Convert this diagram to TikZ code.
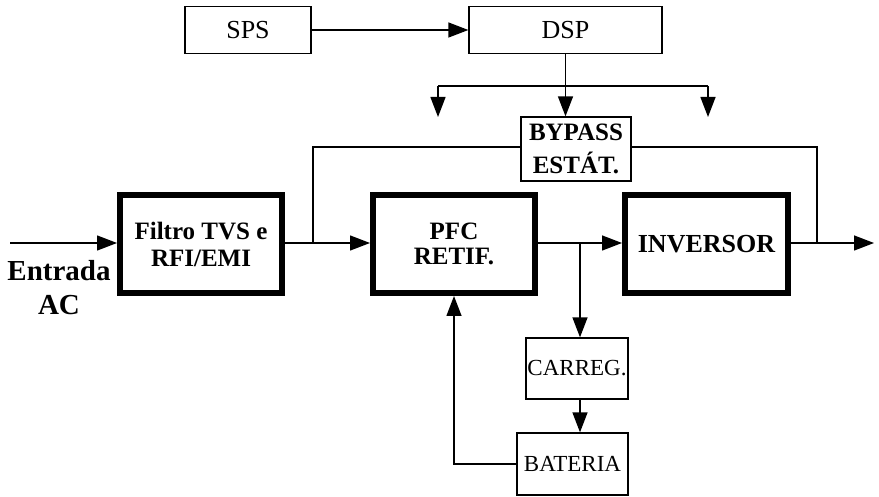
\documentclass[tikz,border=0pt]{standalone}
\usepackage{fontspec}
\setmainfont{Liberation Serif}
\usetikzlibrary{arrows.meta}
\begin{document}
\begin{tikzpicture}[x=1pt,y=-1pt,
  line width=1.4pt,
  arr/.style={-{Triangle[length=20pt,width=15pt]}},
  thin box/.style={draw, line width=1.3pt, inner sep=0pt, font=\fontsize{23}{24}\selectfont, align=center},
  thick box/.style={draw, line width=6pt, inner sep=0pt, font=\bfseries\fontsize{24}{24}\selectfont, align=center},
]
\useasboundingbox (0,0) rectangle (879,497);
\fill[white] (0,0) rectangle (879,497);

\node[thin box, minimum width=126pt, minimum height=47pt, font=\fontsize{26}{26}\selectfont] (sps) at (248,30) {SPS};
\node[thin box, minimum width=193pt, minimum height=47pt, font=\fontsize{26}{26}\selectfont] (dsp) at (565.5,30) {DSP};
\node[thin box, minimum width=110pt, minimum height=64pt, font=\bfseries\fontsize{25}{33}\selectfont] (bypass) at (576,149) {BYPASS\\ESTÁT.};
\node[thick box, minimum width=162pt, minimum height=98pt, font=\bfseries\fontsize{25}{27}\selectfont] (filtro) at (201,244) {Filtro TVS e\\RFI/EMI};
\node[thick box, minimum width=162pt, minimum height=98pt, font=\bfseries\fontsize{25}{25}\selectfont] (pfc) at (454,244) {PFC\\RETIF.};
\node[thick box, minimum width=163pt, minimum height=98pt, font=\bfseries\fontsize{26}{26}\selectfont] (inv) at (706.5,244) {INVERSOR};
\node[thin box, minimum width=102pt, minimum height=61pt] (carreg) at (577,368.5) {CARREG.};
\node[thin box, minimum width=111pt, minimum height=62pt] (bat) at (572.5,464) {BATERIA};
\node[font=\bfseries\fontsize{29}{34}\selectfont, align=center] (entrada) at (59,288) {Entrada\\AC};

\coordinate (in) at (10,243);
\coordinate (j1) at (313,243);
\coordinate (j2) at (817,243);
\coordinate (j3) at (580,243);
\coordinate (out) at (874,243);
\coordinate (bl) at (438,86);
\coordinate (br) at (708,86);
\coordinate (bld) at (438,117);
\coordinate (brd) at (708,117);

\draw[arr] (sps.east) -- (dsp.west);
\draw[arr] (dsp.south) -- (dsp.south |- bypass.north);
\draw (bl) -- (br);
\draw[arr] (bl) -- (bld);
\draw[arr] (br) -- (brd);

\draw[arr] (in) -- (in -| filtro.west);
\draw[arr] (j1 -| filtro.east) -- (j1 -| pfc.west);
\draw (j1) |- ([yshift=2pt]bypass.west);
\draw ([yshift=2pt]bypass.east) -| (j2);
\draw[arr] (j3 -| pfc.east) -- (j3 -| inv.west);
\draw[arr] (j2 -| inv.east) -- (out);
\draw[arr] (j3) -- (j3 |- carreg.north);
\draw[arr] (j3 |- carreg.south) -- (j3 |- bat.north);
\draw[arr] (bat.west) -| (pfc.south);
\end{tikzpicture}
\end{document}
